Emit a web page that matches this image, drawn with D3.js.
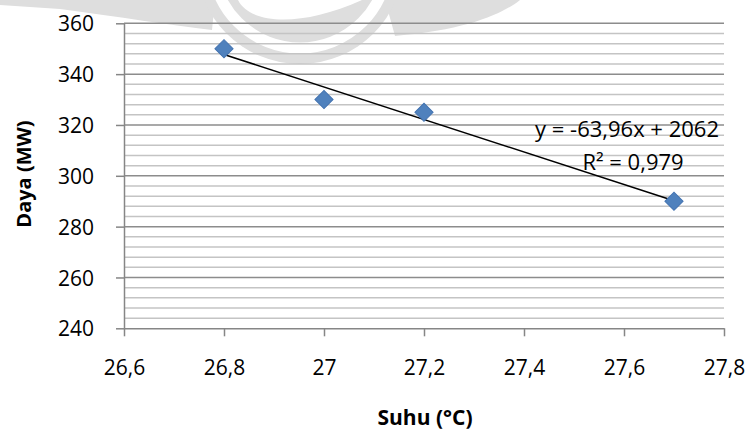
<!DOCTYPE html>
<html><head><meta charset="utf-8">
<script src="https://cdn.jsdelivr.net/npm/d3@7/dist/d3.min.js"></script>
<style>body{margin:0;background:#fff}svg{display:block}text{font-family:"Open Sans",sans-serif;fill:#000}</style>
</head><body><svg id="c" width="749" height="431"></svg>
<script>
const suhu = [26.8, 27.0, 27.2, 27.7];
const daya = [350, 330, 325, 290];
const xTicks = [26.6, 26.8, 27.0, 27.2, 27.4, 27.6, 27.8];
const xTickLabels = ["26,6", "26,8", "27", "27,2", "27,4", "27,6", "27,8"];
const yTicks = [240, 260, 280, 300, 320, 340, 360];
const yTickLabels = ["240", "260", "280", "300", "320", "340", "360"];
const yMinorStep = 4;
const equationText = "y = -63,96x + 2062";
const r2Text = "R² = 0,979";
const xTitle = "Suhu (°C)";
const yTitle = "Daya (MW)";

const svg = d3.select("#c");
const L = 124, R = 724, T = 23.3, B = 328.3;
const x = d3.scaleLinear().domain([26.6, 27.8]).range([L, R]);
const y = d3.scaleLinear().domain([240, 360]).range([B, T]);

// faint watermark
const wm = svg.append("g").attr("fill", "#dedede");
wm.append("path").attr("d", "M0,0 L215,0 L212,30 C170,25 120,17 60,9 L0,5 Z");
wm.append("path").attr("d", "M385,0 L520,0 C505,12 470,30 395,36 Z");
wm.append("circle").attr("cx", 300).attr("cy", -40).attr("r", 104);
wm.append("circle").attr("cx", 300).attr("cy", -40).attr("r", 88).attr("fill", "none").attr("stroke", "#fff").attr("stroke-width", 11);
wm.append("path").attr("d", "M238,0 C250,24 300,28 362,0 Z").attr("fill", "#fff");

// minor gridlines
const minor = d3.range(240, 360 + 0.001, yMinorStep).filter(v => v % 20 !== 0);
svg.append("g").selectAll("line").data(minor).join("line")
  .attr("x1", L).attr("x2", R).attr("y1", d => y(d)).attr("y2", d => y(d))
  .attr("stroke", "#c4c4c4").attr("stroke-width", 1.5);
// major gridlines
svg.append("g").selectAll("line").data(yTicks.slice(1)).join("line")
  .attr("x1", L).attr("x2", R).attr("y1", d => y(d)).attr("y2", d => y(d))
  .attr("stroke", "#8c8c8c").attr("stroke-width", 1.5);

// axes
const yAxis = d3.axisLeft(y).tickValues(yTicks).tickFormat((d, i) => yTickLabels[i]).tickSize(8).tickSizeOuter(0).tickPadding(22);
const gy = svg.append("g").attr("transform", `translate(${L},0)`).call(yAxis);
const xAxis = d3.axisBottom(x).tickValues(xTicks).tickFormat((d, i) => xTickLabels[i]).tickSize(8).tickSizeOuter(0).tickPadding(22);
const gx = svg.append("g").attr("transform", `translate(0,${B})`).call(xAxis);
[gx, gy].forEach(g => {
  g.attr("font-size", 21).attr("font-family", '"Open Sans",sans-serif');
  g.select(".domain").attr("stroke", "#868686").attr("stroke-width", 1.5);
  g.selectAll(".tick line").attr("stroke", "#868686").attr("stroke-width", 1.5);
  g.selectAll("text").attr("fill", "#000");
});
gy.selectAll(".tick text").attr("x", -30).attr("dy", "0.36em");
gx.selectAll(".tick text").attr("dy", 0).attr("y", 47);

// trendline (least squares)
const mx = d3.mean(suhu), my = d3.mean(daya);
const slope = d3.sum(suhu, (v, i) => (v - mx) * (daya[i] - my)) / d3.sum(suhu, v => (v - mx) ** 2);
const icpt = my - slope * mx;
const x0 = d3.min(suhu), x1 = d3.max(suhu);
svg.append("line")
  .attr("x1", x(x0)).attr("y1", y(slope * x0 + icpt))
  .attr("x2", x(x1)).attr("y2", y(slope * x1 + icpt))
  .attr("stroke", "#000").attr("stroke-width", 1.5);

// markers
const sym = d3.symbol().type(d3.symbolSquare).size(165);
svg.append("g").selectAll("path").data(suhu).join("path")
  .attr("d", sym)
  .attr("transform", (d, i) => `translate(${x(d)},${y(daya[i])}) rotate(45)`)
  .attr("fill", "#4f81bd").attr("stroke", "#4373b0").attr("stroke-width", 1);

// equation
svg.append("text").attr("x", 627).attr("y", 137).attr("text-anchor", "middle").attr("font-size", 22).text(equationText);
svg.append("text").attr("x", 633).attr("y", 170).attr("text-anchor", "middle").attr("font-size", 22).text(r2Text);

// titles
svg.append("text").attr("x", 425).attr("y", 425).attr("text-anchor", "middle")
  .attr("font-size", 21).attr("font-weight", "bold").text(xTitle);
svg.append("text").attr("transform", "translate(31,174) rotate(-90)").attr("text-anchor", "middle")
  .attr("font-size", 20).attr("font-weight", "bold").text(yTitle);
</script></body></html>
